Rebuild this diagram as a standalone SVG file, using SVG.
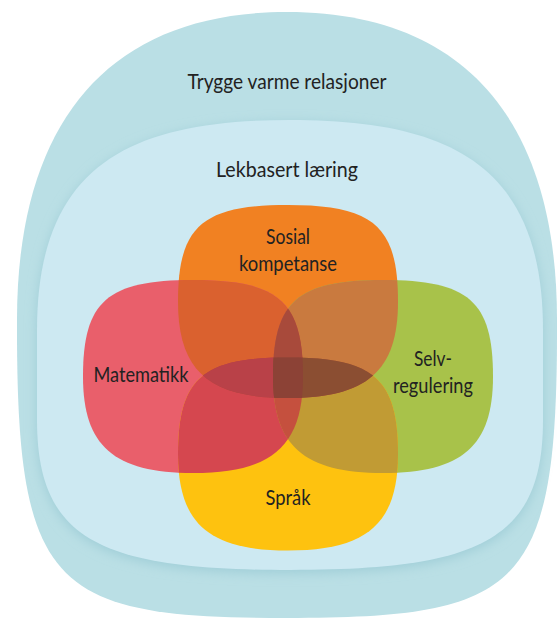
<svg xmlns="http://www.w3.org/2000/svg" xmlns:xlink="http://www.w3.org/1999/xlink" width="558" height="622" viewBox="0 0 558 622">
  <style>
    .lbl { font-family: Lato, "Liberation Sans", sans-serif; font-weight: 400; font-size: 22px; fill: #222222; text-anchor: middle; }
  </style>
  <defs>
    <path id="pO" d="M288,205 C373.8,205 398,226.2 398,301.5 C398,371 367.2,398 288,398 C208.8,398 178,371 178,301.5 C178,226.2 202.2,205 288,205 Z"/>
    <path id="pR" d="M193,280 C278.8,280 303,301.2 303,376.5 C303,446 272.2,473 193,473 C113.8,473 83,446 83,376.5 C83,301.2 107.2,280 193,280 Z"/>
    <path id="pG" d="M383,280 C468.8,280 493,301.2 493,376.5 C493,446 462.2,473 383,473 C303.8,473 273,446 273,376.5 C273,301.2 297.2,280 383,280 Z"/>
    <path id="pY" d="M288,357.5 C373.8,357.5 398,378.7 398,454 C398,523.5 367.2,550.5 288,550.5 C208.8,550.5 178,523.5 178,454 C178,378.7 202.2,357.5 288,357.5 Z"/>
    <path id="pInner" d="M290,120 C450,120 543,165 543,330 L543,420 C543,540 480,570 290,570 C100,570 37,540 37,420 L37,330 C37,165 130,120 290,120 Z"/>
    <clipPath id="cO"><use href="#pO"/></clipPath>
    <clipPath id="cR"><use href="#pR"/></clipPath>
    <clipPath id="cG"><use href="#pG"/></clipPath>
    <clipPath id="cY"><use href="#pY"/></clipPath>
    <filter id="soft" x="-10%" y="-10%" width="120%" height="120%">
      <feGaussianBlur stdDeviation="6"/>
    </filter>
  </defs>

  <rect width="558" height="622" fill="#ffffff"/>

  <g id="outer">
    <path d="M287,12 C464,12 557,120 557,320 L557,330 C557,590 520,618 287,618 C54,618 17,590 17,330 L17,320 C17,120 110,12 287,12 Z" fill="#badfe5"/>
    <text class="lbl" x="287" y="89" textLength="199" lengthAdjust="spacingAndGlyphs">Trygge varme relasjoner</text>
  </g>

  <g id="inner">
    <use href="#pInner" fill="#9fcdd7" filter="url(#soft)" transform="translate(0,3)"/>
    <use href="#pInner" fill="#cde9f2"/>
    <text class="lbl" x="287" y="177" textLength="142" lengthAdjust="spacingAndGlyphs">Lekbasert læring</text>
  </g>

  <g id="sosial-kompetanse">
    <use href="#pO" fill="#f18122"/>
  </g>
  <g id="matematikk">
    <use href="#pR" fill="#e95f6b"/>
  </g>
  <g id="selvregulering">
    <use href="#pG" fill="#a8c24a"/>
  </g>
  <g id="sprak">
    <use href="#pY" fill="#fec20f"/>
  </g>

  <g id="overlaps">
    <use href="#pR" fill="#da612f" clip-path="url(#cO)"/>
    <use href="#pG" fill="#c97a3f" clip-path="url(#cO)"/>
    <use href="#pY" fill="#d5474f" clip-path="url(#cR)"/>
    <use href="#pY" fill="#c19b34" clip-path="url(#cG)"/>
    <use href="#pG" fill="#c5503e" clip-path="url(#cR)"/>
    <use href="#pY" fill="#b04a3c" clip-path="url(#cO)"/>
    <g clip-path="url(#cO)"><use href="#pG" fill="#a84a3b" clip-path="url(#cR)"/></g>
    <g clip-path="url(#cO)"><use href="#pY" fill="#b94148" clip-path="url(#cR)"/></g>
    <g clip-path="url(#cO)"><use href="#pY" fill="#8b4e32" clip-path="url(#cG)"/></g>
    <g clip-path="url(#cO)"><g clip-path="url(#cY)"><use href="#pG" fill="#8c4236" clip-path="url(#cR)"/></g></g>
  </g>

  <g id="labels">
    <text class="lbl" x="288" y="244" textLength="44" lengthAdjust="spacingAndGlyphs">Sosial</text>
    <text class="lbl" x="288" y="271" textLength="98" lengthAdjust="spacingAndGlyphs">kompetanse</text>
    <text class="lbl" x="141" y="382" textLength="95" lengthAdjust="spacingAndGlyphs">Matematikk</text>
    <text class="lbl" x="433" y="366" textLength="38" lengthAdjust="spacingAndGlyphs">Selv-</text>
    <text class="lbl" x="433" y="393" textLength="80" lengthAdjust="spacingAndGlyphs">regulering</text>
    <text class="lbl" x="288" y="505" textLength="45" lengthAdjust="spacingAndGlyphs">Språk</text>
  </g>
</svg>
